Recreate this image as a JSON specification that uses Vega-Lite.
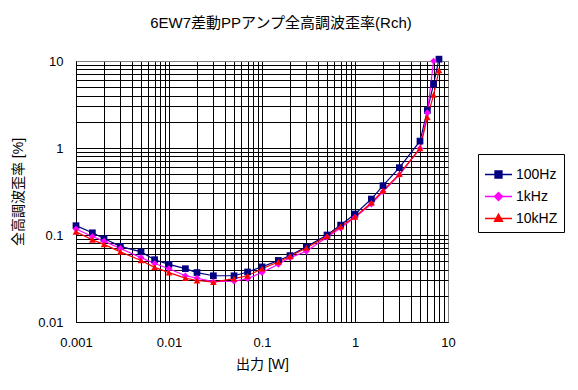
{
  "$schema": "https://vega.github.io/schema/vega-lite/v6.json",
  "width": 372,
  "height": 261,
  "autosize": {"type": "none"},
  "padding": {"left": 76, "top": 61, "right": 130, "bottom": 68},
  "background": "white",
  "title": {
    "text": "6EW7差動PPアンプ全高調波歪率(Rch)",
    "font": "Liberation Sans, Noto Sans CJK JP",
    "fontSize": 15,
    "fontWeight": "normal",
    "color": "black",
    "anchor": "middle",
    "frame": "group",
    "dx": 19,
    "offset": 24
  },
  "config": {
    "view": {"stroke": "#808080", "strokeWidth": 1},
    "font": "Liberation Sans, Noto Sans CJK JP"
  },
  "data": {
    "values": [
      {"p": 0.001, "thd": 0.128, "s": "100Hz"},
      {"p": 0.0015, "thd": 0.106, "s": "100Hz"},
      {"p": 0.002, "thd": 0.091, "s": "100Hz"},
      {"p": 0.003, "thd": 0.074, "s": "100Hz"},
      {"p": 0.005, "thd": 0.064, "s": "100Hz"},
      {"p": 0.007, "thd": 0.052, "s": "100Hz"},
      {"p": 0.01, "thd": 0.046, "s": "100Hz"},
      {"p": 0.015, "thd": 0.041, "s": "100Hz"},
      {"p": 0.02, "thd": 0.037, "s": "100Hz"},
      {"p": 0.03, "thd": 0.034, "s": "100Hz"},
      {"p": 0.05, "thd": 0.034, "s": "100Hz"},
      {"p": 0.07, "thd": 0.0376, "s": "100Hz"},
      {"p": 0.1, "thd": 0.043, "s": "100Hz"},
      {"p": 0.15, "thd": 0.051, "s": "100Hz"},
      {"p": 0.2, "thd": 0.058, "s": "100Hz"},
      {"p": 0.3, "thd": 0.073, "s": "100Hz"},
      {"p": 0.5, "thd": 0.1, "s": "100Hz"},
      {"p": 0.7, "thd": 0.13, "s": "100Hz"},
      {"p": 1, "thd": 0.174, "s": "100Hz"},
      {"p": 1.5, "thd": 0.259, "s": "100Hz"},
      {"p": 2, "thd": 0.369, "s": "100Hz"},
      {"p": 3, "thd": 0.594, "s": "100Hz"},
      {"p": 5, "thd": 1.2, "s": "100Hz"},
      {"p": 6, "thd": 2.7, "s": "100Hz"},
      {"p": 7, "thd": 5.45, "s": "100Hz"},
      {"p": 8, "thd": 10.5, "s": "100Hz"},
      {"p": 0.001, "thd": 0.117, "s": "1kHz"},
      {"p": 0.0015, "thd": 0.096, "s": "1kHz"},
      {"p": 0.002, "thd": 0.085, "s": "1kHz"},
      {"p": 0.003, "thd": 0.07, "s": "1kHz"},
      {"p": 0.005, "thd": 0.055, "s": "1kHz"},
      {"p": 0.007, "thd": 0.047, "s": "1kHz"},
      {"p": 0.01, "thd": 0.041, "s": "1kHz"},
      {"p": 0.015, "thd": 0.034, "s": "1kHz"},
      {"p": 0.02, "thd": 0.032, "s": "1kHz"},
      {"p": 0.03, "thd": 0.029, "s": "1kHz"},
      {"p": 0.05, "thd": 0.0294, "s": "1kHz"},
      {"p": 0.07, "thd": 0.0315, "s": "1kHz"},
      {"p": 0.1, "thd": 0.037, "s": "1kHz"},
      {"p": 0.15, "thd": 0.046, "s": "1kHz"},
      {"p": 0.2, "thd": 0.055, "s": "1kHz"},
      {"p": 0.3, "thd": 0.065, "s": "1kHz"},
      {"p": 0.5, "thd": 0.094, "s": "1kHz"},
      {"p": 0.7, "thd": 0.12, "s": "1kHz"},
      {"p": 1, "thd": 0.16, "s": "1kHz"},
      {"p": 1.5, "thd": 0.227, "s": "1kHz"},
      {"p": 2, "thd": 0.315, "s": "1kHz"},
      {"p": 3, "thd": 0.49, "s": "1kHz"},
      {"p": 5, "thd": 0.99, "s": "1kHz"},
      {"p": 6, "thd": 2.55, "s": "1kHz"},
      {"p": 7, "thd": 10.0, "s": "1kHz"},
      {"p": 0.001, "thd": 0.109, "s": "10kHZ"},
      {"p": 0.0015, "thd": 0.088, "s": "10kHZ"},
      {"p": 0.002, "thd": 0.078, "s": "10kHZ"},
      {"p": 0.003, "thd": 0.064, "s": "10kHZ"},
      {"p": 0.005, "thd": 0.051, "s": "10kHZ"},
      {"p": 0.007, "thd": 0.0425, "s": "10kHZ"},
      {"p": 0.01, "thd": 0.037, "s": "10kHZ"},
      {"p": 0.015, "thd": 0.032, "s": "10kHZ"},
      {"p": 0.02, "thd": 0.03, "s": "10kHZ"},
      {"p": 0.03, "thd": 0.0288, "s": "10kHZ"},
      {"p": 0.05, "thd": 0.0315, "s": "10kHZ"},
      {"p": 0.07, "thd": 0.034, "s": "10kHZ"},
      {"p": 0.1, "thd": 0.041, "s": "10kHZ"},
      {"p": 0.15, "thd": 0.049, "s": "10kHZ"},
      {"p": 0.2, "thd": 0.057, "s": "10kHZ"},
      {"p": 0.3, "thd": 0.071, "s": "10kHZ"},
      {"p": 0.5, "thd": 0.097, "s": "10kHZ"},
      {"p": 0.7, "thd": 0.125, "s": "10kHZ"},
      {"p": 1, "thd": 0.162, "s": "10kHZ"},
      {"p": 1.5, "thd": 0.235, "s": "10kHZ"},
      {"p": 2, "thd": 0.323, "s": "10kHZ"},
      {"p": 3, "thd": 0.5, "s": "10kHZ"},
      {"p": 5, "thd": 0.99, "s": "10kHZ"},
      {"p": 6, "thd": 2.25, "s": "10kHZ"},
      {"p": 7, "thd": 4.07, "s": "10kHZ"},
      {"p": 8, "thd": 7.8, "s": "10kHZ"}
    ]
  },
  "encoding": {
    "x": {
      "field": "p",
      "type": "quantitative",
      "scale": {"type": "log", "domain": [0.001, 10], "nice": false},
      "axis": {
        "values": [0.001, 0.002, 0.003, 0.004, 0.005, 0.006, 0.007, 0.008, 0.009, 0.01, 0.02, 0.03, 0.04, 0.05, 0.06, 0.07, 0.08, 0.09, 0.1, 0.2, 0.3, 0.4, 0.5, 0.6, 0.7, 0.8, 0.9, 1, 2, 3, 4, 5, 6, 7, 8, 9, 10],
        "labelExpr": "abs(log(datum.value)/LN10 - round(log(datum.value)/LN10)) < 0.0001 ? format(datum.value, '~g') : ''",
        "labelOverlap": false,
        "labelFlush": false,
        "ticks": false,
        "grid": true,
        "gridColor": {"condition": {"test": "datum.value >= 9.99", "value": "#808080"}, "value": "black"},
        "gridOpacity": 1,
        "gridWidth": 1,
        "domainColor": "black",
        "domainWidth": 1,
        "labelFontSize": 13,
        "labelColor": "black",
        "labelPadding": 14,
        "title": "出力 [W]",
        "titleFontSize": 14,
        "titleFontWeight": "normal",
        "titleColor": "black",
        "titlePadding": 8
      }
    },
    "y": {
      "field": "thd",
      "type": "quantitative",
      "scale": {"type": "log", "domain": [0.01, 10], "nice": false},
      "axis": {
        "values": [0.01, 0.02, 0.03, 0.04, 0.05, 0.06, 0.07, 0.08, 0.09, 0.1, 0.2, 0.3, 0.4, 0.5, 0.6, 0.7, 0.8, 0.9, 1, 2, 3, 4, 5, 6, 7, 8, 9, 10],
        "labelExpr": "abs(log(datum.value)/LN10 - round(log(datum.value)/LN10)) < 0.0001 ? format(datum.value, '~g') : ''",
        "labelOverlap": false,
        "labelFlush": false,
        "ticks": false,
        "grid": true,
        "gridColor": {"condition": {"test": "datum.value >= 9.99", "value": "#808080"}, "value": "black"},
        "gridOpacity": 1,
        "gridWidth": 1,
        "domainColor": "black",
        "domainWidth": 1,
        "labelFontSize": 13,
        "labelColor": "black",
        "labelPadding": 13,
        "title": "全高調波歪率 [%]",
        "titleFontSize": 14,
        "titleFontWeight": "normal",
        "titleColor": "black",
        "titlePadding": 12
      }
    }
  },
  "layer": [
    {
      "mark": {"type": "line", "strokeWidth": 1.2, "clip": false},
      "encoding": {
        "color": {
          "field": "s",
          "type": "nominal",
          "sort": ["100Hz", "1kHz", "10kHZ"],
          "scale": {"domain": ["100Hz", "1kHz", "10kHZ"], "range": ["#000080", "#FF00FF", "#FF0000"]},
          "legend": {
            "title": null,
            "orient": "none",
            "legendX": 402,
            "legendY": 93,
            "strokeColor": "black",
            "fillColor": "white",
            "padding": 6,
            "symbolSize": 729,
            "rowPadding": -7,
            "labelOffset": 3,
            "labelFontSize": 14,
            "labelColor": "black",
            "cornerRadius": 0,
            "encode": {
              "symbols": {
                "update": {
                  "shape": {"signal": "datum.value === '100Hz' ? 'M-1,0H1M-0.26,-0.26H0.26V0.26H-0.26Z' : datum.value === '1kHz' ? 'M-1,0H1M0,-0.3L0.3,0L0,0.3L-0.3,0Z' : 'M-1,0H1M0,-0.33L0.3,0.22L-0.3,0.22Z'"},
                  "fill": {"signal": "datum.value === '100Hz' ? '#000080' : datum.value === '1kHz' ? '#FF00FF' : '#FF0000'"},
                  "stroke": {"signal": "datum.value === '100Hz' ? '#000080' : datum.value === '1kHz' ? '#FF00FF' : '#FF0000'"},
                  "strokeWidth": {"value": 1.3},
                  "opacity": {"value": 1},
                  "fillOpacity": {"value": 1}
                }
              }
            }
          }
        }
      }
    },
    {
      "mark": {"type": "point", "filled": true, "size": 45, "opacity": 1, "clip": false},
      "encoding": {
        "color": {"field": "s", "type": "nominal", "legend": null},
        "shape": {
          "condition": [
            {"test": "datum.s === '1kHz'", "value": "diamond"},
            {"test": "datum.s === '10kHZ'", "value": "triangle-up"}
          ],
          "value": "square"
        }
      }
    }
  ]
}
